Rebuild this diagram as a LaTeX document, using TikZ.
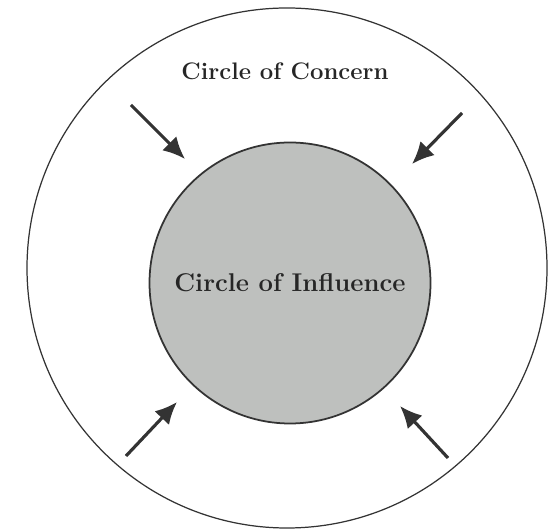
\documentclass[tikz,border=0pt]{standalone}
\usetikzlibrary{arrows.meta}

\tikzset{
    ringline/.style={draw=black!80, line width=0.7pt},
    pusharrow/.style={-{Latex[length=4.4mm,width=4mm]}, line width=1.8pt, draw=black!80},
    ringlabel/.style={font=\bfseries\fontsize{13.6}{16}\selectfont, text=black!85}
}

\begin{document}
\begin{tikzpicture}[scale=1]
    \useasboundingbox (0,0) rectangle (11.18,10.6);

    % outer ring and its label
    \node (concern) at (5.74,5.24)[circle,ringline,minimum size=10.4cm]{};
    \node (concernlabel) at (5.70,9.18)[ringlabel]{Circle of Concern};

    % inner disc
    \node (influence) at (5.80,4.94)[circle,ringline,line width=1pt,fill={rgb,255:red,190;green,192;blue,190},minimum size=5.62cm,ringlabel,font=\bfseries\fontsize{14.6}{17}\selectfont]{Circle of Influence};

    % arrows pointing in
    \foreach \n/\sx/\sy/\tx/\ty in {tl/2.62/8.50/3.70/7.42, tr/9.24/8.34/8.24/7.32, bl/2.52/1.48/3.54/2.56, br/8.96/1.44/8.00/2.48}
    {
        \coordinate (\n from) at (\sx,\sy);
        \coordinate (\n to) at (\tx,\ty);
        \draw[pusharrow] (\n from) -- (\n to);
    }
\end{tikzpicture}
\end{document}
